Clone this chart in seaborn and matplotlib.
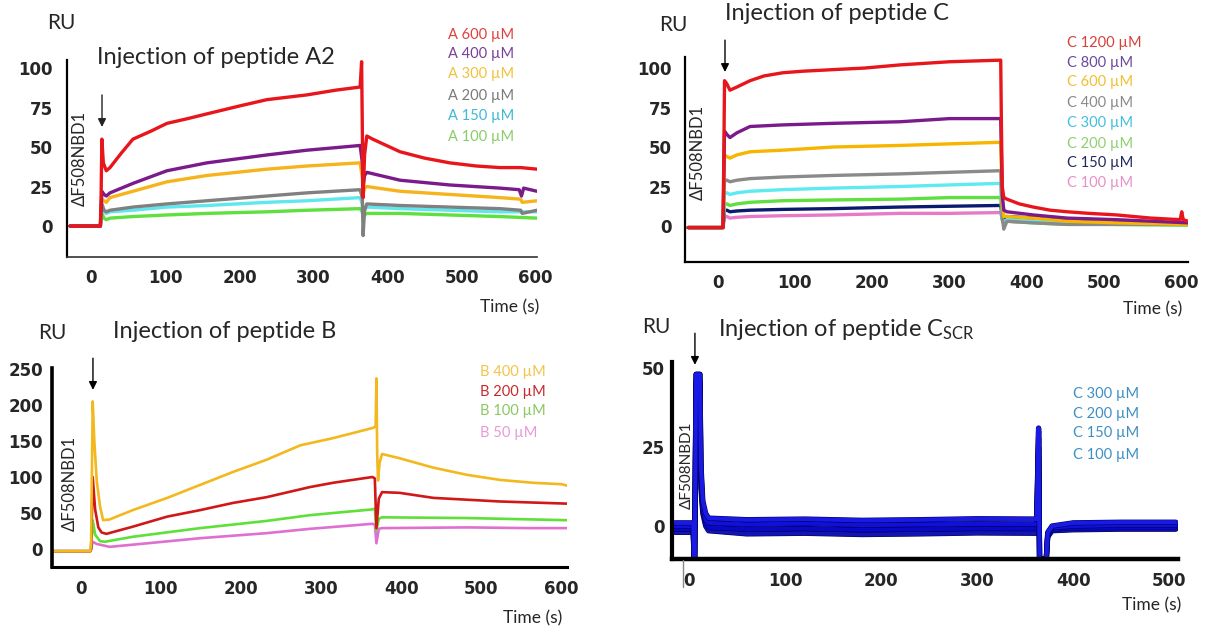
import numpy as np
import pandas as pd
import matplotlib
matplotlib.use("Agg")
import matplotlib.pyplot as plt
import matplotlib.patheffects as pe
from matplotlib.lines import Line2D
import seaborn as sns

# ---------------- data ----------------
# Panel A2
A600_t = [-29, 12, 13, 14, 16, 20, 25, 40, 56, 80, 102, 130, 156, 200, 237, 291, 330, 363, 365, 366, 367, 369, 372, 380, 417, 450, 484, 520, 552, 580, 602]
A600_y = [0, 0, 20, 55, 40, 35, 37, 46, 55, 60, 65, 68, 71, 76, 80, 83, 86, 88, 104, 60, 18, 45, 57, 55, 47, 43, 40, 38, 37, 37, 36]
A400_t = [-29, 12, 13, 14, 17, 20, 25, 56, 102, 156, 237, 291, 363, 366, 367, 369, 372, 417, 484, 552, 578, 581, 584, 602]
A400_y = [0, 0, 10, 22, 20, 19, 21, 27, 35, 40, 45, 48, 51, 40, 25, 32, 34, 29, 26, 24, 23, 19, 24, 22]
A300_t = [-29, 12, 13, 14, 17, 20, 25, 56, 102, 156, 237, 291, 363, 366, 367, 369, 372, 417, 484, 552, 580, 582, 602]
A300_y = [0, 0, 10, 17, 16, 15, 18, 22, 28, 32, 36, 38, 40, 30, 20, 24, 25, 22, 20, 18, 17, 15, 16]
A200_t = [-29, 12, 13, 14, 17, 20, 25, 56, 102, 156, 237, 291, 363, 366, 367, 369, 372, 417, 484, 552, 580, 582, 602]
A200_y = [0, 0, 8, 14, 10, 9, 10, 12, 14, 16, 19, 21, 23, 18, -6, 10, 14, 13, 12, 11, 10, 8, 10]
A150_t = [-29, 12, 13, 14, 17, 20, 25, 56, 102, 156, 237, 291, 363, 366, 367, 369, 372, 417, 484, 552, 602]
A150_y = [0, 0, 6, 12, 9, 8, 9, 10, 12, 13, 15, 16, 18, 14, 6, 10, 12, 11, 10, 9, 9]
A100_t = [-29, 12, 13, 14, 17, 20, 25, 56, 102, 156, 237, 291, 363, 366, 367, 369, 372, 417, 484, 552, 602]
A100_y = [0, 0, 4, 8, 5, 4, 5, 6, 7, 8, 9, 10, 11, 9, 5, 7, 8, 8, 7, 6, 5]
A_labels = ["A 600 µM", "A 400 µM", "A 300 µM", "A 200 µM", "A 150 µM", "A 100 µM"]

# Panel C
C1200_t = [-38, 7, 8, 9, 12, 16, 25, 42, 60, 84, 110, 149, 190, 236, 300, 366, 367, 368, 370, 374, 390, 408, 430, 452, 480, 516, 560, 598, 600, 602, 608]
C1200_y = [-1, -1, 40, 92, 90, 86, 88, 92, 95, 97, 98, 99, 100, 102, 104, 105, 60, 25, 18, 17, 14, 12, 10, 9, 8, 7, 5, 4, 9, 4, 3]
C_t = [-38, 7, 9, 12, 16, 25, 42, 84, 149, 236, 300, 366, 368, 370, 374, 408, 452, 516, 608]
C800_y = [-1, -1, 60, 58, 56, 59, 63, 64, 65, 66, 68, 68, 20, 10, 9, 7, 5, 4, 2]
C600_y = [-1, -1, 45, 44, 43, 45, 47, 48, 50, 51, 52, 53, 15, 6, 6, 5, 3, 2, 1]
C400_y = [-1, -1, 29, 29, 28, 29, 30, 31, 32, 33, 34, 35, 5, -2, 3, 2, 1, 1, 1]
C300_y = [-1, -1, 21, 21, 20, 21, 22, 23, 24, 25, 26, 27, 5, 2, 4, 3, 2, 1, 1]
C200_y = [-1, -1, 14, 14, 13, 14, 15, 16, 16.5, 17, 18, 18, 4, 1, 3, 2, 1, 1, 0.5]
C150_y = [-1, -1, 10, 10, 9, 9.5, 10, 10.5, 11, 12, 12.5, 13, 6, 5, 6, 5, 3, 2, 1]
C100_y = [-1, -1, 6, 6, 5, 5.5, 6, 6.5, 7, 8, 8, 8.5, 4, 2, 3, 2.5, 2, 1.5, 1]
C_labels = ["C 1200 µM", "C 800 µM", "C 600 µM", "C 400 µM", "C 300 µM", "C 200 µM", "C 150 µM", "C 100 µM"]

# Panel B
B400_t = [-38, 12, 13, 15, 17, 20, 24, 28, 36, 65, 108, 149, 190, 232, 274, 315, 364, 368, 369, 370, 371, 373, 376, 398, 440, 482, 523, 564, 600, 607]
B400_y = [-3, -3, 10, 205, 150, 95, 60, 40, 41, 54, 71, 89, 107, 124, 144, 154, 168, 170, 237, 130, 95, 120, 132, 126, 113, 103, 96, 92, 90, 88]
B200_t = [-38, 12, 13, 15, 18, 22, 26, 32, 65, 108, 149, 190, 232, 286, 315, 364, 367, 369, 372, 376, 398, 440, 523, 607]
B200_y = [-3, -3, 0, 100, 55, 30, 23, 21, 31, 45, 54, 64, 72, 86, 92, 100, 98, 29, 70, 79, 78, 71, 66, 63]
B100_t = [-38, 12, 13, 15, 18, 24, 30, 65, 149, 232, 286, 364, 367, 369, 372, 376, 482, 607]
B100_y = [-3, -3, 0, 40, 20, 11, 10, 17, 29, 39, 47, 55, 56, 26, 42, 44, 43, 40]
B50_t = [-38, 12, 13, 15, 20, 36, 65, 149, 232, 286, 364, 367, 369, 372, 376, 482, 560, 607]
B50_y = [-3, -3, 0, 10, 7, 3, 6, 15, 22, 28, 35, 34, 8, 28, 29, 30, 29, 29]
B_labels = ["B 400 µM", "B 200 µM", "B 100 µM", "B 50 µM"]

# Panel C scrambled
S_t = [-15, 4, 5, 5.5, 6, 7, 11, 12, 14, 17, 20, 60, 120, 180, 240, 300, 362, 364, 365, 372, 373.5, 378, 400, 450, 507]
S300_y = [1.0, 1.0, -11, -11, 10, 48, 48, 20, 8, 4, 2.5, 2, 2.2, 1.8, 2, 2.3, 2.2, 31, -10.5, -10.5, -2, 0, 1, 1.2, 1.2]
S200_y = [0, 0, -11, -11, 10, 48, 48, 18, 6, 2, 1, 0.5, 0.8, 0.3, 0.5, 0.7, 0.6, 30, -10.5, -10.5, -2.5, -0.5, 0, 0.3, 0.3]
S150_y = [-1, -1, -11, -11, 8, 46, 46, 15, 5, 1, -0.5, -1, -0.8, -1.2, -1, -0.8, -0.8, 28, -10.5, -10.5, -3, -1, -0.6, -0.5, -0.5]
S100_y = [-2, -2, -11, -11, 6, 44, 44, 12, 4, 0, -1.5, -2.5, -2.3, -2.7, -2.5, -2.2, -2.3, 25, -10.5, -10.5, -3.5, -1.5, -1.2, -1, -1]
S_labels = ["C 300 µM", "C 200 µM", "C 150 µM", "C 100 µM"]

# ---------------- styling ----------------
sns.set_style("white")
plt.rcParams['font.family'] = ['Lato', 'DejaVu Sans']
plt.rcParams['mathtext.fontset'] = 'custom'
plt.rcParams['mathtext.rm'] = 'Lato'
plt.rcParams['mathtext.it'] = 'Lato:italic'

W, H = 1209, 632
fig = plt.figure(figsize=(W / 100, H / 100), dpi=100)
fig.patch.set_facecolor("white")
TXT = ['Lato', 'DejaVu Sans']


def px_axes(x0, x1, y0, y1):
    return fig.add_axes([x0 / W, 1 - y1 / H, (x1 - x0) / W, (y1 - y0) / H])


def ftext(x, y, s, **kw):
    fig.text(x / W, 1 - y / H, s, family=TXT, **kw)


def long_df(names, ts, ys):
    frames = [pd.DataFrame({'t': t, 'RU': y, 'series': n}) for n, t, y in zip(names, ts, ys)]
    return pd.concat(frames, ignore_index=True)


def panel(box, xlim, ylim, xticks, yticks, names, ts, ys, colors, lw,
          lw_left, lw_bottom, ypad, bottom_color='black', **kw):
    ax = px_axes(*box)
    df = long_df(names, ts, ys)
    sns.lineplot(data=df, x='t', y='RU', hue='series', hue_order=names[::-1],
                 palette=dict(zip(names, colors)), estimator=None, sort=False,
                 linewidth=lw, legend=False, ax=ax, **kw)
    ax.set_xlim(xlim)
    ax.set_ylim(ylim)
    ax.set_xticks(xticks, [str(v) for v in xticks], fontfamily='DejaVu Sans',
                  fontweight='bold', fontsize=12)
    ax.set_yticks(yticks, [str(v) for v in yticks], fontfamily='DejaVu Sans',
                  fontweight='bold', fontsize=12)
    ax.set_xlabel('')
    ax.set_ylabel('')
    ax.grid(False)
    ax.patch.set_alpha(0)
    sns.despine(ax=ax)
    ax.spines['left'].set_linewidth(lw_left)
    ax.spines['left'].set_color('black')
    ax.spines['bottom'].set_linewidth(lw_bottom)
    ax.spines['bottom'].set_color(bottom_color)
    ax.tick_params(axis='both', length=0)
    ax.tick_params(axis='y', pad=ypad)
    ax.tick_params(axis='x', pad=9)
    return ax


def arrow(ax, t, y0, y1, color='black'):
    ax.annotate('', xy=(t, y1), xytext=(t, y0), annotation_clip=False,
                arrowprops=dict(arrowstyle='-|>', color=color, lw=1.0,
                                mutation_scale=12, shrinkA=0, shrinkB=0))


TITLE_FS = 17
TIME_FS = 12.5

# ---------- Panel A2 ----------
A_colors = ["#e8161b", "#7b1a8a", "#f7b31c", "#808080", "#5ee8ee", "#5ee03e"]
axA = panel((67, 537, 60, 257), (-33.1, 602), (-19.6, 105.1),
            [0, 100, 200, 300, 400, 500, 600], [0, 25, 50, 75, 100],
            A_labels, [A600_t, A400_t, A300_t, A200_t, A150_t, A100_t],
            [A600_y, A400_y, A300_y, A200_y, A150_y, A100_y],
            A_colors, 2.4, 1.6, 1.2, 10, bottom_color='#333333')
arrow(axA, 14.2, 83, 62.7, color='#222222')
ftext(61, 23, "RU", fontsize=15, ha='center', va='center')
ftext(97, 57, "Injection of peptide A2", fontsize=TITLE_FS, ha='left', va='center')
ftext(80, 158, "ΔF508NBD1", fontsize=12, rotation=90, ha='center', va='center')
ftext(510, 307, "Time (s)", fontsize=TIME_FS, ha='center', va='center')
A_leg_colors = ["#e0403c", "#7a3f98", "#f2c23a", "#7a7a7a", "#3cb8d8", "#8acc66"]
for lab, c, y in zip(A_labels, A_leg_colors, [35, 54, 74, 96, 116, 137]):
    ftext(448, y, lab, fontsize=10.5, color=c, ha='left', va='center')

# ---------- Panel C ----------
C_colors = ["#e8161b", "#7b1a8a", "#f7b500", "#8a8a8a", "#5eeaf0", "#60e040", "#0a1a6e", "#e77ac8"]
axC = panel((685, 1188, 57, 262), (-42.1, 608.1), (-22.8, 107),
            [0, 100, 200, 300, 400, 500, 600], [0, 25, 50, 75, 100],
            C_labels, [C1200_t] + [C_t] * 7,
            [C1200_y, C800_y, C600_y, C400_y, C300_y, C200_y, C150_y, C100_y],
            C_colors, 2.4, 1.6, 1.6, 9.5)
arrow(axC, 9.6, 117.7, 97.5)
ftext(673, 25, "RU", fontsize=15, ha='center', va='center')
ftext(725, 14, "Injection of peptide C", fontsize=TITLE_FS, ha='left', va='center')
ftext(698, 152, "ΔF508NBD1", fontsize=12, rotation=90, ha='center', va='center')
ftext(1153, 309, "Time (s)", fontsize=TIME_FS, ha='center', va='center')
C_leg_colors = ["#d8403a", "#6b4a9a", "#f0c030", "#8a8a8a", "#40c0e0", "#90d070", "#202a5a", "#e890c8"]
for lab, c, y in zip(C_labels, C_leg_colors, [43, 63, 82, 103, 123, 144, 163, 183]):
    ftext(1067, y, lab, fontsize=10.5, color=c, ha='left', va='center')

# ---------- Panel B ----------
B_colors = ["#f2b81e", "#d01818", "#5ee038", "#df70d0"]
axB = panel((52, 567, 368, 567), (-35.8, 606.8), (-25, 251.4),
            [0, 100, 200, 300, 400, 500, 600], [0, 50, 100, 150, 200, 250],
            B_labels, [B400_t, B200_t, B100_t, B50_t],
            [B400_y, B200_y, B100_y, B50_y],
            B_colors, 1.9, 2.6, 2.2, 6.5)
arrow(axB, 15.3, 265, 221)
ftext(52, 333, "RU", fontsize=15, ha='center', va='center')
ftext(113, 332, "Injection of peptide B", fontsize=TITLE_FS, ha='left', va='center')
ftext(70, 483, "ΔF508NBD1", fontsize=12, rotation=90, ha='center', va='center')
ftext(533, 618, "Time (s)", fontsize=TIME_FS, ha='center', va='center')
B_leg_colors = ["#f2c44a", "#c8282c", "#8ac860", "#e89ad8"]
for lab, c, y in zip(B_labels, B_leg_colors, [372, 392, 411, 433]):
    ftext(480, y, lab, fontsize=10.5, color=c, ha='left', va='center')

# ---------- Panel C scrambled ----------
S_colors = ["#1a1ae6", "#1010d8", "#0808c8", "#1414b0"]
axS = panel((672, 1178, 362, 559), (-18.1, 509.3), (-10.44, 51.9),
            [0, 100, 200, 300, 400, 500], [0, 25, 50],
            S_labels, [S_t] * 4, [S300_y, S200_y, S150_y, S100_y],
            S_colors, 3.0, 3.0, 3.2, 5,
            path_effects=[pe.Stroke(linewidth=3.8, foreground='#00005a'), pe.Normal()])
arrow(axS, 5.8, 61, 51)
ftext(656, 327, "RU", fontsize=15, ha='center', va='center')
ftext(718, 330, r"Injection of peptide C$_\mathregular{SCR}$", fontsize=TITLE_FS, ha='left', va='center')
ftext(687, 465, "ΔF508NBD1", fontsize=11, rotation=90, ha='center', va='center')
ftext(1152, 605, "Time (s)", fontsize=TIME_FS, ha='center', va='center')
for lab, y in zip(S_labels, [394, 414, 433, 455]):
    ftext(1073, y, lab, fontsize=10.5, color="#3d8fc4", ha='left', va='center')
fig.add_artist(Line2D([683 / W, 683 / W], [1 - 560 / H, 1 - 587 / H], color='#888888', lw=1))

fig.savefig("out.png", dpi=100, facecolor="white")
